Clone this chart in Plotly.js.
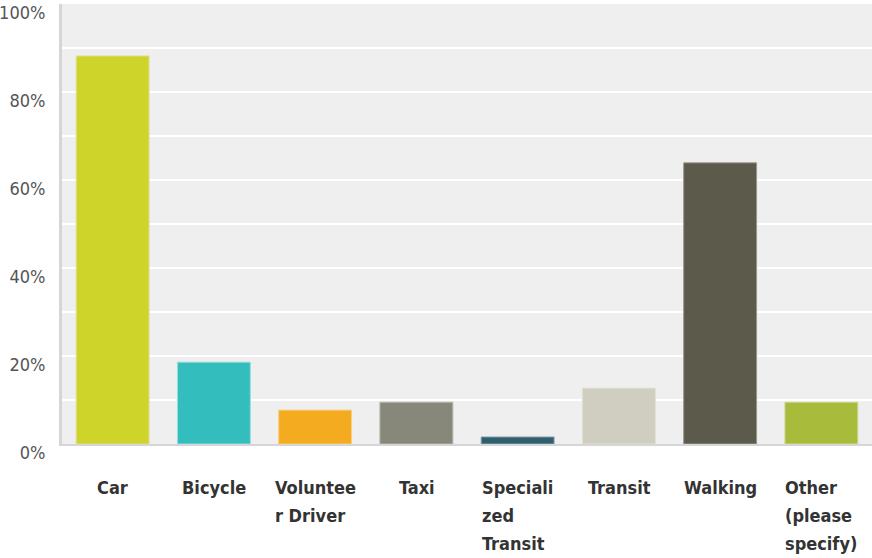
<!DOCTYPE html>
<html>
<head>
<meta charset="utf-8">
<script src="https://cdn.plot.ly/plotly-3.0.1.min.js"></script>
<style>html,body{margin:0;padding:0;background:#fff;}#chart{width:872px;height:558px;}</style>
</head>
<body>
<div id="chart"></div>
<script>
const categories = ["Car", "Bicycle", "Volunteer Driver", "Taxi", "Specialized Transit", "Transit", "Walking", "Other (please specify)"];
const tickLabelLines = [["Car"], ["Bicycle"], ["Voluntee", "r Driver"], ["Taxi"], ["Speciali", "zed", "Transit"], ["Transit"], ["Walking"], ["Other", "(please", "specify)"]];
const percentValues = [88.2, 18.6, 7.7, 9.5, 1.6, 12.7, 63.9, 9.5];
const barColors = ["#cfd42a", "#33bdbd", "#f5ab20", "#87887a", "#2f5f6e", "#cfcec0", "#5c5a4b", "#a8bb3a"];
const lineColors = ["#dde0a0", "#9adcdc", "#f7cf86", "#b4b5ab", "#8aa2aa", "#e2e1d6", "#9a988e", "#cdd79a"];

const narrow = '"DejaVu Sans Condensed", "Liberation Sans Narrow", Arial, sans-serif';
const labelSize = 18;
const lineStep = 28;

const ctx = document.createElement('canvas').getContext('2d');
ctx.font = 'bold ' + labelSize + 'px ' + narrow;

const annotations = [];
categories.forEach((c, i) => {
  const lines = tickLabelLines[i];
  const blockW = Math.max(...lines.map(t => ctx.measureText(t).width));
  lines.forEach((t, k) => {
    annotations.push({
      x: c, xref: 'x', y: 0, yref: 'paper',
      yanchor: 'top', xanchor: 'left', align: 'left',
      xshift: -blockW / 2 - 2, yshift: -31 - lineStep * k, showarrow: false,
      text: '<b>' + t + '</b>',
      font: {family: narrow, size: labelSize, color: '#333333'}
    });
  });
});

const trace = {
  type: 'bar',
  x: categories,
  y: percentValues,
  marker: {color: barColors, line: {color: lineColors, width: 1}},
  hoverinfo: 'none'
};

const layout = {
  width: 872, height: 558,
  margin: {l: 62, r: 0, t: 4, b: 114, pad: 0},
  paper_bgcolor: '#ffffff',
  plot_bgcolor: '#efefef',
  bargap: 0.28,
  showlegend: false,
  xaxis: {
    type: 'category', showticklabels: false, ticks: '', showgrid: false,
    showline: true, linecolor: '#d6d6d6', linewidth: 2, zeroline: false, fixedrange: true
  },
  yaxis: {
    range: [0, 100], dtick: 20, tick0: 0, ticksuffix: '%',
    showgrid: true, gridcolor: '#ffffff', gridwidth: 2,
    minor: {dtick: 10, showgrid: true, gridcolor: '#ffffff', gridwidth: 2},
    ticks: '', showline: true, linecolor: '#d6d6d6', linewidth: 3, zeroline: false,
    ticklabelshift: 9, ticklabelstandoff: 10,
    tickfont: {family: narrow, size: 18, color: '#555555'}, fixedrange: true
  },
  annotations: annotations
};

Plotly.newPlot('chart', [trace], layout, {displayModeBar: false, staticPlot: true});
</script>
</body>
</html>
